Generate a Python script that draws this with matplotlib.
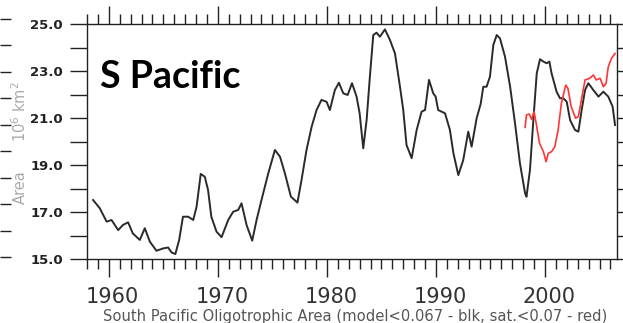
import matplotlib
matplotlib.use("Agg")
import matplotlib.pyplot as plt
from matplotlib.ticker import FixedLocator, FuncFormatter
from matplotlib.transforms import ScaledTranslation

# ---- data ----
model_year = [1958.56, 1959.17, 1959.8, 1960.25, 1960.86, 1961.3, 1961.77, 1962.2, 1962.84, 1963.3,
              1963.76, 1964.37, 1964.98, 1965.44, 1965.75, 1966.1, 1966.45, 1966.8, 1967.28, 1967.74,
              1968.05, 1968.43, 1968.8, 1969.1, 1969.4, 1969.88, 1970.34, 1970.95, 1971.4, 1971.87,
              1972.17, 1972.63, 1973.15, 1973.55, 1974.0, 1974.62, 1975.23, 1975.7, 1976.15, 1976.7,
              1977.3, 1977.67, 1978.13, 1978.6, 1979.05, 1979.5, 1979.97, 1980.27, 1980.73, 1981.1,
              1981.5, 1981.9, 1982.3, 1982.72, 1983.0, 1983.33, 1983.64, 1983.94, 1984.25, 1984.55,
              1984.86, 1985.32, 1985.78, 1986.24, 1986.7, 1987.0, 1987.3, 1987.77, 1988.23, 1988.68,
              1989.0, 1989.36, 1989.75, 1989.97, 1990.2, 1990.83, 1991.28, 1991.6, 1992.05, 1992.5,
              1992.96, 1993.27, 1993.73, 1994.1, 1994.34, 1994.64, 1994.95, 1995.26, 1995.57, 1995.87,
              1996.33, 1996.8, 1997.25, 1997.7, 1998.17, 1998.3, 1998.62, 1998.93, 1999.24, 1999.54,
              1999.85, 2000.15, 2000.4, 2000.6, 2001.06, 2001.37, 2001.68, 2001.99, 2002.3, 2002.75,
              2003.06, 2003.36, 2003.67, 2003.97, 2004.43, 2004.9, 2005.35, 2005.8, 2006.2, 2006.42]
model_area = [17.51, 17.16, 16.59, 16.66, 16.23, 16.45, 16.56, 16.09, 15.81, 16.31,
              15.74, 15.35, 15.45, 15.49, 15.28, 15.21, 15.81, 16.80, 16.80, 16.66,
              17.23, 18.62, 18.50, 17.94, 16.80, 16.16, 15.93, 16.66, 17.01, 17.09,
              17.37, 16.45, 15.78, 16.66, 17.51, 18.64, 19.64, 19.35, 18.64, 17.65,
              17.40, 18.36, 19.64, 20.63, 21.34, 21.77, 21.69, 21.34, 22.19, 22.50,
              22.05, 21.98, 22.48, 21.91, 21.20, 19.71, 20.91, 22.76, 24.53, 24.63,
              24.46, 24.77, 24.32, 23.75, 22.33, 21.34, 19.85, 19.29, 20.49, 21.27,
              21.34, 22.62, 22.05, 21.91, 21.34, 21.20, 20.49, 19.50, 18.57, 19.21,
              20.42, 19.78, 20.99, 21.60, 22.33, 22.33, 22.76, 24.11, 24.53, 24.39,
              23.61, 22.33, 20.77, 19.07, 17.80, 17.65, 18.79, 20.91, 22.90, 23.50,
              23.40, 23.33, 23.40, 22.90, 22.12, 21.84, 21.84, 21.69, 20.91, 20.49,
              20.42, 21.34, 22.19, 22.48, 22.19, 21.91, 22.12, 21.91, 21.48, 20.70]

sat_year = [1998.17, 1998.3, 1998.56, 1998.77, 1999.0, 1999.24, 1999.5, 1999.85, 2000.1, 2000.3,
            2000.6, 2000.9, 2001.2, 2001.5, 2001.9, 2002.1, 2002.4, 2002.8, 2003.06, 2003.36,
            2003.67, 2004.1, 2004.43, 2004.7, 2005.05, 2005.35, 2005.6, 2005.8, 2006.1, 2006.42]
sat_area = [20.60, 21.13, 21.17, 20.94, 21.27, 20.63, 19.92, 19.57, 19.14, 19.50,
            19.57, 19.78, 20.49, 21.63, 22.40, 22.26, 21.48, 20.99, 21.06, 21.84,
            22.62, 22.69, 22.83, 22.62, 22.69, 22.33, 22.48, 23.18, 23.54, 23.75]

x_major = [1960, 1970, 1980, 1990, 2000]
x_minor = list(range(1958, 2007))
y_ticks = [15, 16, 17, 18, 19, 20, 21, 22, 23, 24, 25]
y_labels = [15, 17, 19, 21, 23, 25]

title = "S Pacific"
caption = "South Pacific Oligotrophic Area (model<0.067 - blk, sat.<0.07 - red)"

# ---- figure ----
W, H = 623, 323
fig = plt.figure(figsize=(W / 100, H / 100), dpi=100)
L, R, T, B = 87, 617, 24, 259
ax = fig.add_axes([L / W, (H - B) / H, (R - L) / W, (B - T) / H])

ax.plot(model_year, model_area, color="#2a2a2a", lw=1.4)
ax.plot(sat_year, sat_area, color="#ff3535", lw=1.2)

ax.set_xlim(1958.0, 2006.6)
ax.set_ylim(15, 25)

for s in ax.spines.values():
    s.set_color("#222222")
    s.set_linewidth(1.0)

ax.xaxis.set_major_locator(FixedLocator(x_major))
ax.xaxis.set_minor_locator(FixedLocator(x_minor))
ax.tick_params(axis="x", which="major", direction="out", length=13, width=1.0,
               top=True, bottom=True, color="#222222", pad=7,
               labelsize=15, labelcolor="#333333")
ax.tick_params(axis="x", which="minor", direction="out", length=7, width=1.0,
               top=True, bottom=True, color="#222222")
shift = ScaledTranslation(4 / 100, 0, fig.dpi_scale_trans)
for lab in ax.get_xticklabels():
    lab.set_fontfamily("DejaVu Sans")
    lab.set_transform(lab.get_transform() + shift)

ax.yaxis.set_major_locator(FixedLocator(y_ticks))
ax.yaxis.set_major_formatter(FuncFormatter(
    lambda v, p: f"{v:.1f}" if round(v) in y_labels else ""))
ax.tick_params(axis="y", which="major", direction="out", length=12, width=1.0,
               left=True, right=True, color="#222222", pad=5.5,
               labelsize=9.5, labelcolor="#222222")
for lab in ax.get_yticklabels():
    lab.set_fontweight("bold")

# y axis label (gray)
fig.text(20 / W, 1 - 112 / H, "10$^6$ km$^2$", rotation=90, ha="center", va="center",
         color="#aaaaaa", fontsize=10.5)
fig.text(20 / W, 1 - 187 / H, "Area", rotation=90, ha="center", va="center",
         color="#aaaaaa", fontsize=10.5)

# title
fig.text(100 / W, 1 - 88 / H, title, ha="left", va="baseline",
         fontsize=27, fontweight="bold", family="Lato", color="black")

# caption
fig.text(103 / W, 1 - 316 / H, caption, ha="left", va="center",
         fontsize=10.6, color="#555555")

# remnant ticks of neighbouring panel at the left edge
axl = fig.add_axes([-0.05, (H - 257) / H, 0.05, (257 - 19) / H])
axl.set_ylim(0, 9)
axl.set_xticks([])
axl.yaxis.set_ticks_position("right")
axl.yaxis.set_major_locator(FixedLocator(list(range(10))))
axl.tick_params(axis="y", direction="out", length=8, width=1.0, color="#222222",
                labelright=False, labelleft=False)
for s in axl.spines.values():
    s.set_visible(False)
axl.patch.set_visible(False)

fig.savefig("out.png", dpi=100)
